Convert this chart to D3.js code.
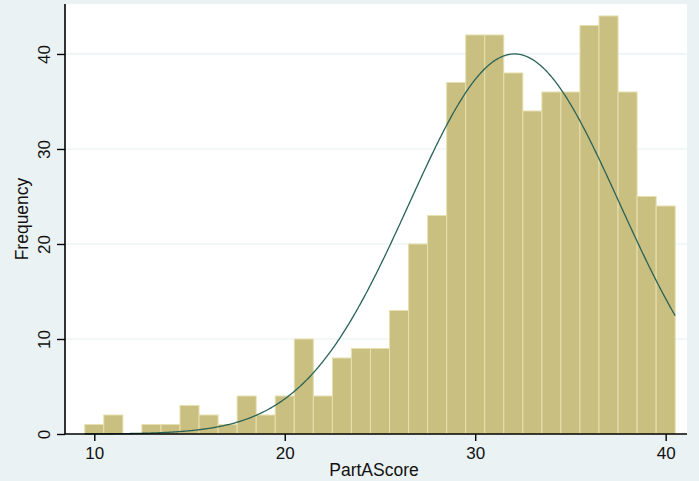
<!DOCTYPE html>
<html>
<head>
<meta charset="utf-8">
<script src="https://cdn.jsdelivr.net/npm/d3@7"></script>
<style>
  html, body { margin: 0; padding: 0; background: #EAF2F3; }
  svg { display: block; }
  text { font-family: "Liberation Sans", Arial, sans-serif; fill: #111; }
</style>
</head>
<body>
<svg id="chart" width="699" height="481"></svg>
<script>
// Bin centres (bin width 1) and frequencies
const binCenters = [10,11,12,13,14,15,16,17,18,19,20,21,22,23,24,25,26,27,28,29,30,31,32,33,34,35,36,37,38,39,40];
const frequencies = [1,2,0,1,1,3,2,1,4,2,4,10,4,8,9,9,13,20,23,37,42,42,38,34,36,36,43,44,36,25,24];
const binWidth = 1;
const xTicks = [10, 20, 30, 40];
const yTicks = [0, 10, 20, 30, 40];
// Fitted normal overlay parameters (estimated from the curve's peak)
const normalMean = 32.06;
const normalSd = 5.525;

const svg = d3.select("#chart");
const W = 699, H = 481;
const plot = { left: 65, right: 687, top: 4, bottom: 434 };

svg.append("rect").attr("width", W).attr("height", H).attr("fill", "#EAF2F3");
svg.append("rect")
  .attr("x", plot.left).attr("y", plot.top)
  .attr("width", plot.right - plot.left).attr("height", plot.bottom - plot.top)
  .attr("fill", "#ffffff");

const x = d3.scaleLinear().domain([8.462, 41.12]).range([plot.left, plot.right]);
const y = d3.scaleLinear().domain([0, 45.26]).range([plot.bottom, plot.top]);

// grid lines
svg.append("g").selectAll("line").data(yTicks.filter(d => d > 0)).join("line")
  .attr("x1", plot.left).attr("x2", plot.right)
  .attr("y1", d => y(d)).attr("y2", d => y(d))
  .attr("stroke", "#E6EFF1").attr("stroke-width", 1.2);

// bars
const bins = binCenters.map((c, i) => ({ c, f: frequencies[i] })).filter(d => d.f > 0);
svg.append("g").selectAll("rect").data(bins).join("rect")
  .attr("x", d => x(d.c - binWidth / 2))
  .attr("width", d => x(d.c + binWidth / 2) - x(d.c - binWidth / 2))
  .attr("y", d => y(d.f))
  .attr("height", d => y(0) - y(d.f))
  .attr("fill", "#C9BF80")
  .attr("stroke", "#E6E0B0")
  .attr("stroke-width", 1);

// normal curve
const N = d3.sum(frequencies);
const xs = d3.range(binCenters[0] - binWidth / 2, binCenters[binCenters.length - 1] + binWidth / 2 + 1e-9, 0.05);
const dens = v => N * binWidth / (normalSd * Math.sqrt(2 * Math.PI)) * Math.exp(-0.5 * Math.pow((v - normalMean) / normalSd, 2));
svg.append("path")
  .datum(xs)
  .attr("d", d3.line().x(v => x(v)).y(v => y(dens(v))))
  .attr("fill", "none")
  .attr("stroke", "#2A6358")
  .attr("stroke-width", 1.3);

// axes
const yAxis = d3.axisLeft(y).tickValues(yTicks).tickSize(8).tickPadding(6).tickFormat(d3.format("d"));
const gy = svg.append("g").attr("transform", `translate(${plot.left},0)`).call(yAxis);
gy.select(".domain").remove();
gy.append("line").attr("x1", 0).attr("x2", 0).attr("y1", plot.top).attr("y2", plot.bottom)
  .attr("stroke", "#000").attr("stroke-width", 1.6);
gy.selectAll(".tick line").attr("stroke", "#000").attr("stroke-width", 1.4);
gy.selectAll(".tick text")
  .attr("font-size", 17)
  .attr("x", 0).attr("y", 0)
  .attr("dy", 0)
  .attr("text-anchor", "middle")
  .attr("transform", "translate(-15,0) rotate(-90)")
  .attr("fill", "#111");

const xAxis = d3.axisBottom(x).tickValues(xTicks).tickSize(7).tickPadding(6).tickFormat(d3.format("d"));
const gx = svg.append("g").attr("transform", `translate(0,${plot.bottom})`).call(xAxis);
gx.select(".domain").remove();
gx.append("line").attr("x1", plot.left).attr("x2", plot.right).attr("y1", 0).attr("y2", 0)
  .attr("stroke", "#000").attr("stroke-width", 1.6);
gx.selectAll(".tick line").attr("stroke", "#000").attr("stroke-width", 1.4);
gx.selectAll(".tick text").attr("font-size", 17).attr("fill", "#111");

// axis titles
svg.append("text")
  .attr("x", 374).attr("y", 476)
  .attr("text-anchor", "middle")
  .attr("font-size", 17.5)
  .text("PartAScore");
svg.append("text")
  .attr("transform", `translate(28,219) rotate(-90)`)
  .attr("text-anchor", "middle")
  .attr("font-size", 17.5)
  .text("Frequency");
</script>
</body>
</html>
